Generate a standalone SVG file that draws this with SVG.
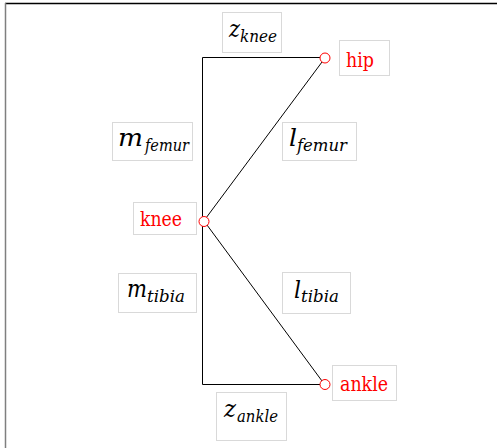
<svg xmlns="http://www.w3.org/2000/svg" width="497" height="448" viewBox="0 0 497 448">
<style>
.box{fill:#fff;stroke:#d9d9d9;stroke-width:1}
.math{font-family:"DejaVu Serif",serif;font-style:italic;fill:#000;font-size:24px}
.sub{font-family:"DejaVu Serif",serif;font-style:italic;fill:#000;font-size:16px}
.red{font-family:"DejaVu Serif",serif;fill:#ff0000;font-size:20px}
.edge{stroke:#000;stroke-width:1;fill:none}
.joint{fill:#fff;stroke:#ff0000;stroke-width:1}
</style>
<rect width="497" height="448" fill="#fff"/>
<line x1="5" y1="3.5" x2="497" y2="3.5" stroke="#000" stroke-width="1.5"/>
<line x1="5.5" y1="3" x2="5.5" y2="448" stroke="#7f7f7f" stroke-width="1.5"/>
<g id="connectors">
<polyline class="edge" points="320,57.5 202.5,57.5 202.5,384.5 320,384.5"/>
<line class="edge" x1="322" y1="62" x2="206" y2="218"/>
<line class="edge" x1="207" y1="225" x2="322" y2="381"/>
</g>
<g id="z_knee"><rect class="box" x="222.5" y="12.5" width="59" height="40"/><text class="math" x="229" y="37" textLength="11" lengthAdjust="spacingAndGlyphs">z</text><text class="sub" x="240" y="42" textLength="37" lengthAdjust="spacingAndGlyphs">knee</text></g>
<g id="hip"><rect class="box" x="339.5" y="40.5" width="50" height="35"/><circle class="joint" cx="325" cy="58" r="5"/><text class="red" x="346" y="67" textLength="28" lengthAdjust="spacingAndGlyphs">hip</text></g>
<g id="m_femur"><rect class="box" x="112.5" y="122.5" width="80" height="38"/><text class="math" x="118" y="146" textLength="25" lengthAdjust="spacingAndGlyphs">m</text><text class="sub" x="145" y="151" textLength="44" lengthAdjust="spacingAndGlyphs">femur</text></g>
<g id="l_femur"><rect class="box" x="282.5" y="122.5" width="74" height="38"/><text class="math" x="289" y="146" textLength="8" lengthAdjust="spacingAndGlyphs">l</text><text class="sub" x="297" y="151" textLength="50" lengthAdjust="spacingAndGlyphs">femur</text></g>
<g id="knee"><rect class="box" x="133.5" y="202.5" width="63" height="32"/><circle class="joint" cx="204" cy="221.5" r="5"/><text class="red" x="140" y="226" textLength="42" lengthAdjust="spacingAndGlyphs">knee</text></g>
<g id="m_tibia"><rect class="box" x="118.5" y="273.5" width="78" height="39"/><text class="math" x="127" y="297" textLength="20" lengthAdjust="spacingAndGlyphs">m</text><text class="sub" x="147" y="302" textLength="38" lengthAdjust="spacingAndGlyphs">tibia</text></g>
<g id="l_tibia"><rect class="box" x="282.5" y="272.5" width="68" height="41"/><text class="math" x="294" y="298" textLength="7" lengthAdjust="spacingAndGlyphs">l</text><text class="sub" x="301" y="302" textLength="38" lengthAdjust="spacingAndGlyphs">tibia</text></g>
<g id="ankle"><rect class="box" x="332.5" y="365.5" width="64" height="35"/><circle class="joint" cx="325" cy="384.5" r="5"/><text class="red" x="340" y="391" textLength="48" lengthAdjust="spacingAndGlyphs">ankle</text></g>
<g id="z_ankle"><rect class="box" x="216.5" y="392.5" width="70" height="48"/><text class="math" x="224" y="417" textLength="12" lengthAdjust="spacingAndGlyphs">z</text><text class="sub" x="237" y="422" textLength="41" lengthAdjust="spacingAndGlyphs">ankle</text></g>
</svg>
